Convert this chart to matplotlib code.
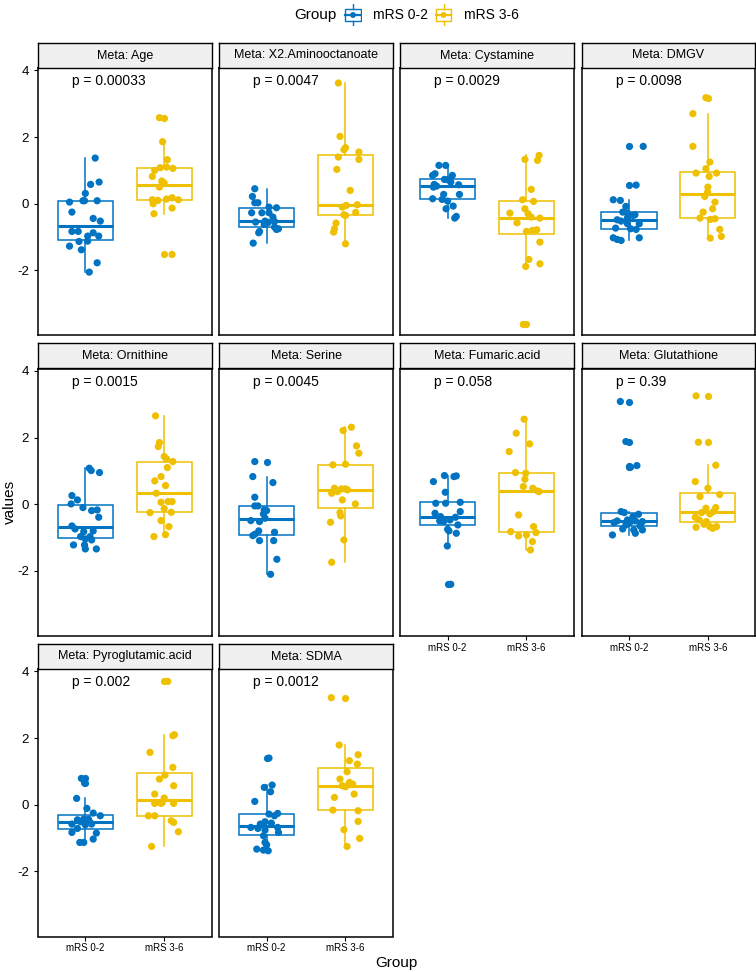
import matplotlib
matplotlib.use("Agg")
import matplotlib.pyplot as plt
from matplotlib.patches import Rectangle
import numpy as np

plt.rcParams['font.family'] = ['Liberation Sans', 'DejaVu Sans']
plt.rcParams['axes.unicode_minus'] = False

# ---- data ----
groups = ['mRS 0-2', 'mRS 3-6']
metabolites = ['Age', 'X2.Aminooctanoate', 'Cystamine', 'DMGV', 'Ornithine',
               'Serine', 'Fumaric.acid', 'Glutathione', 'Pyroglutamic.acid', 'SDMA']
p_labels = ['p = 0.00033', 'p = 0.0047', 'p = 0.0029', 'p = 0.0098', 'p = 0.0015',
            'p = 0.0045', 'p = 0.058', 'p = 0.39', 'p = 0.002', 'p = 0.0012']
y_ticks = [-2, 0, 2, 4]

age_lo = [1.37, .58, .65, .31, .09, .09, .05, .09, -.25, -.44, -.52, -.83, -.83, -.97, -.87, -.97, -1.13, -1.12, -1.27, -1.38, -1.77, -2.05]
age_lo_jit = [.125, .067, .175, 0, -.03, -.01, -.2, .15, -.17, .1, .19, -.17, -.09, .03, .1, .17, -.08, .03, -.2, -.05, .15, .05]
age_hi = [2.58, 1.86, 1.32, 1.0, 1.08, 1.10, 1.06, .82, .68, .62, .50, .12, 0, .10, .14, .18, .12, -.30, -.13, -1.52]
age_hi_jit = [-.06, -.02, .04, -.12, -.05, .03, .11, -.15, -.03, 0, -.06, -.15, -.14, -.08, .03, .1, .18, -.13, .1, .1]

x2_lo = [.45, .22, .03, .03, -.1, -.12, -.27, -.27, -.27, -.4, -.55, -.62, -.53, -.75, -.77, -.7, -.83, -.87, -1.18, -.52, -.56]
x2_lo_jit = [-.15, -.18, -.15, -.11, .03, .125, -.19, -.06, .03, .08, -.14, -.03, .1, .15, .125, .1, -.09, -.1, -.17, -.02, .02]
x2_hi = [3.62, 2.02, 1.68, 1.62, 1.55, 1.4, 1.33, 1.03, .4, -.03, -.1, -.26, -.33, -.35, -.58, -.75, -.85, -1.2, -.05]
x2_hi_jit = [-.09, -.07, 0, -.02, .17, -.09, .17, -.11, .06, .15, -.04, .13, -.02, 0, -.12, -.14, -.15, 0, .01]

cys_lo = [1.15, 1.15, .9, .85, .85, .73, .72, .65, .58, .5, .53, .57, .28, .28, .15, .13, .08, -.07, -.15, -.38, -.43]
cys_lo_jit = [-.11, -.025, -.16, -.19, .06, -.04, 0, .04, -.17, -.18, -.14, .14, -.05, .15, -.19, -.07, 0, .07, -.02, .11, .09]
cys_hi = [1.33, 1.45, 1.3, .43, .12, .07, -.15, -.28, -.3, -.43, -.57, -.83, -.8, -.78, -1.15, -1.67, -1.8, -1.88, -3.62, -.4]
cys_hi_jit = [-.02, .16, .14, .06, -.05, .09, -.02, -.21, .02, .17, -.12, 0, .075, .13, .17, .03, .17, -.01, -.04, .06]

dmgv_lo = [.56, .12, .1, -.08, -.25, -.28, -.33, -.48, -.42, -.6, -.6, -.73, -.75, -.77, -1.02, -1.07, -1.1, -1.02, 1.72, -.35, -.52]
dmgv_lo_jit = [.09, -.2, -.11, -.04, -.08, -.02, .075, -.15, -.02, .13, -.02, -.17, .02, .09, -.2, -.15, -.1, .13, .18, .05, -.1]
dmgv_hi = [3.18, 2.7, 1.72, 1.25, 1.05, .92, .82, .92, .5, .35, .05, -.15, -.25, -.43, -.47, -.45, -1.03, -.77, -.98, .22]
dmgv_hi_jit = [-.025, -.19, -.19, .025, -.025, -.15, .017, .11, 0, -.004, .09, .06, -.06, -.1, .03, .09, .03, .15, .17, -.04]

orn_lo = [1.08, 1.01, .95, .26, .13, .01, -.1, -.19, -.17, -.39, -.65, -.82, -.8, -.97, -.97, -1.04, -1.22, -1.22, -1.07, -1.34, -1.34, -.74]
orn_lo_jit = [.05, .075, .18, -.17, -.1, -.18, -.03, .08, .15, .17, -.17, -.02, .1, -.06, .06, 0, -.15, -.01, .08, .14, 0, -.13]
orn_hi = [2.65, 1.85, 1.73, 1.43, 1.36, 1.28, 1.1, .83, .7, .56, .06, .08, .08, -.25, -.13, -.24, -.49, -.67, -.97, -.91, .33]
orn_hi_jit = [-.11, -.06, -.075, 0, .03, .11, .04, -.04, -.12, .017, -.04, .05, .1, -.18, 0, .09, -.04, .06, -.13, .017, -.1]

ser_lo = [1.28, .83, .65, .21, -.05, -.05, -.17, -.19, -.29, -.49, -.52, -.8, -.84, -.94, -.9, -1.09, -1.09, -1.65, -2.1, -.42]
ser_lo_jit = [-.15, -.175, .08, -.15, -.15, -.11, -.03, 0, -.04, -.2, -.09, -.1, .1, -.175, -.15, -.09, .09, .13, .05, -.02]
ser_hi = [2.31, 2.21, 1.75, 1.53, 1.18, 1.2, .48, .46, .46, .33, .13, .01, -.25, -.35, -.54, -1.07, -1.74, .38, .43]
ser_hi_jit = [.075, -.03, .14, .17, -.16, 0, -.14, -.05, 0, -.175, -.04, .125, -.07, -.06, -.19, -.02, -.175, -.1, .025]

fum_lo = [.86, .83, .85, .68, .36, .03, .03, .06, -.27, -.22, -.5, -.52, -.47, -.75, -.8, -.87, -1.25, -2.4, -.37, -.39, -.62]
fum_lo_jit = [-.04, .08, .11, -.18, -.03, -.15, -.025, .16, -.16, .16, -.1, -.05, .03, 0, .017, .11, -.004, .04, -.09, .1, .13]
fum_hi = [2.55, 2.13, 1.81, 1.58, .95, .93, .75, .53, .48, .4, .38, -.32, -.82, -.95, -.92, -.67, -.85, -1.12, -1.37]
fum_hi_jit = [-.03, -.13, .04, -.22, -.14, -.01, -.02, -.04, .08, .14, .16, -.1, -.2, -.1, 0, .09, .12, .075, .05]

glu_lo = [3.08, 1.88, 1.16, 1.11, -.22, -.25, -.5, -.55, -.52, -.37, -.5, -.47, -.55, -.74, -.77, -.77, -.87, -.92, -.3, -.62, -.65]
glu_lo_jit = [-.11, -.04, .1, .02, -.1, -.06, -.15, -.19, .17, .05, .08, -.02, .01, -.08, .06, .17, .08, -.21, .12, -.04, .14]
glu_hi = [3.25, 1.86, 1.17, .68, .48, .23, .29, -.12, -.22, -.25, -.29, -.39, -.47, -.52, -.69, -.67, -.67, -.72, -.6, -.1]
glu_hi_jit = [-.15, -.12, .1, -.16, 0, -.1, .15, -.025, .07, -.08, .025, -.16, -.11, -.02, -.15, .025, .11, .06, -.05, .1]

pyr_lo = [.79, .65, .19, -.11, -.25, -.33, -.43, -.43, -.45, -.58, -.58, -.6, -.71, -.85, -.83, -1.03, -1.13, -1.13, -.51, -.53]
pyr_lo_jit = [-.05, -.01, -.11, .02, .1, .19, -.02, .04, -.1, -.17, .08, 0, -.1, .14, -.17, .1, -.07, -.02, -.06, .06]
pyr_hi = [3.7, 2.07, 2.1, 1.57, 1.12, .89, .77, .57, .32, .04, .04, .07, .04, -.33, -.33, -.53, -.48, -.81, -1.25, .2]
pyr_hi_jit = [.045, .11, .13, -.18, .11, .01, -.06, .12, -.12, -.12, -.04, -.025, .12, -.2, -.12, .12, .09, .18, -.16, 0]

sdma_lo = [1.4, .59, .52, .39, .1, -.28, -.26, -.33, -.51, -.68, -.68, -.71, -.76, -.83, -.93, -1.13, -1.2, -1.33, -1.36, -1.38, -.55, -.58]
sdma_lo_jit = [.03, .07, -.03, .05, -.15, .03, .14, .1, -.02, -.2, .14, -.11, -.02, .15, -.04, -.02, 0, -.125, -.04, .02, .06, -.08]
sdma_hi = [3.21, 1.79, 1.5, 1.32, 1.22, .99, .77, .67, .62, .57, .54, .32, .22, -.16, -.18, -.5, -.75, -1.01, -1.25]
sdma_hi_jit = [-.18, -.08, .16, .05, .15, .02, -.07, .05, .09, -.04, 0, .11, -.14, -.16, .16, .16, -.02, .18, .02]

panels = [
    (age_lo, age_lo_jit, age_hi, age_hi_jit),
    (x2_lo, x2_lo_jit, x2_hi, x2_hi_jit),
    (cys_lo, cys_lo_jit, cys_hi, cys_hi_jit),
    (dmgv_lo, dmgv_lo_jit, dmgv_hi, dmgv_hi_jit),
    (orn_lo, orn_lo_jit, orn_hi, orn_hi_jit),
    (ser_lo, ser_lo_jit, ser_hi, ser_hi_jit),
    (fum_lo, fum_lo_jit, fum_hi, fum_hi_jit),
    (glu_lo, glu_lo_jit, glu_hi, glu_hi_jit),
    (pyr_lo, pyr_lo_jit, pyr_hi, pyr_hi_jit),
    (sdma_lo, sdma_lo_jit, sdma_hi, sdma_hi_jit),
]

colors = ['#0073C2', '#EFC000']

# ---- layout (pixels) ----
W, H = 756, 972
col_left = [38, 219.3, 400.3, 581.7]
panel_w = 173.5
row_top = [68, 368.5, 669]
panel_h = 267.5
strip_h = 25


def fig_rect(x, y, w, h):
    return [x / W, 1 - (y + h) / H, w / W, h / H]


fig = plt.figure(figsize=(W / 100, H / 100), dpi=100)

for i, name in enumerate(metabolites):
    r, c = divmod(i, 4)
    x0, y0 = col_left[c], row_top[r]
    ax = fig.add_axes(fig_rect(x0, y0, panel_w, panel_h))
    lo, lo_jit, hi, hi_jit = panels[i]

    for k, vals in enumerate([lo, hi]):
        col = colors[k]
        ax.boxplot([vals], positions=[k + 1], widths=0.7, showcaps=False,
                   patch_artist=True, manage_ticks=False,
                   boxprops=dict(facecolor='white', edgecolor=col, linewidth=1.1),
                   whiskerprops=dict(color=col, linewidth=1.1),
                   medianprops=dict(color=col, linewidth=2.2),
                   flierprops=dict(marker='o', markerfacecolor=col, markeredgecolor='none',
                                   markersize=5.2),
                   zorder=2)
    ax.scatter(1 + np.array(lo_jit), lo, s=27, color=colors[0], edgecolors='none', zorder=3)
    ax.scatter(2 + np.array(hi_jit), hi, s=27, color=colors[1], edgecolors='none', zorder=3)

    ax.text(0.83, 3.68, p_labels[i], ha='left', va='center', fontsize=10)

    ax.set_xlim(0.4, 2.6)
    ax.set_ylim(-3.95, 4.07)
    for sp in ax.spines.values():
        sp.set_linewidth(1.1)
        sp.set_color('black')

    ax.set_yticks(y_ticks)
    ax.set_xticks([1, 2])
    ax.tick_params(direction='out', length=3, width=0.8, color='black')
    if c == 0:
        ax.set_yticklabels([str(t) for t in y_ticks], fontsize=9.5)
    else:
        ax.tick_params(axis='y', left=False, labelleft=False)
    if i in (6, 7, 8, 9):
        ax.set_xticklabels(groups, fontsize=7)
        ax.tick_params(axis='x', pad=2)
    else:
        ax.tick_params(axis='x', bottom=False, labelbottom=False)

    # facet strip
    sax = fig.add_axes(fig_rect(x0, y0 - strip_h, panel_w, strip_h))
    sax.set_facecolor('#F0F0F0')
    sax.set_xticks([])
    sax.set_yticks([])
    for sp in sax.spines.values():
        sp.set_linewidth(1.0)
    sax.text(0.5, 0.5, 'Meta: ' + name, ha='center', va='center', fontsize=9,
             transform=sax.transAxes)

# axis titles
fig.text(396.5 / W, 1 - 963 / H, 'Group', ha='center', va='center', fontsize=11)
fig.text(10 / W, 1 - 502 / H, 'values', ha='center', va='center', rotation=90, fontsize=11)

# legend on top
fig.text(294 / W, 1 - 15 / H, 'Group', ha='left', va='center', fontsize=11)
for xc, col, lab in [(353, colors[0], groups[0]), (443.5, colors[1], groups[1])]:
    kax = fig.add_axes(fig_rect(xc - 9, 15 - 11, 18, 22))
    kax.set_xlim(0, 1)
    kax.set_ylim(0, 1)
    kax.axis('off')
    kax.add_patch(Rectangle((0.08, 0.24), 0.84, 0.52, facecolor='white', edgecolor=col, lw=1.0))
    kax.plot([0.5, 0.5], [0.0, 0.24], color=col, lw=1.0)
    kax.plot([0.5, 0.5], [0.76, 1.0], color=col, lw=1.0)
    kax.plot([0.08, 0.92], [0.5, 0.5], color=col, lw=1.6)
    kax.scatter([0.5], [0.5], s=18, color=col, edgecolors='none', zorder=3)
    fig.text((xc + 20) / W, 1 - 15 / H, lab, ha='left', va='center', fontsize=10)

fig.savefig('out.png', dpi=100, facecolor='white')
